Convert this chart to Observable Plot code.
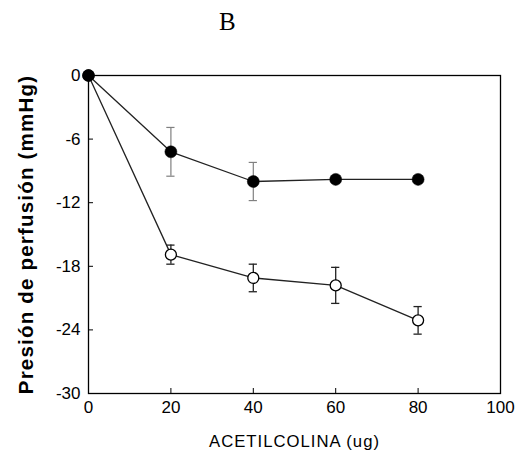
<!DOCTYPE html>
<html>
<head>
<meta charset="utf-8">
<script src="https://cdn.jsdelivr.net/npm/d3@7"></script>
<script src="https://cdn.jsdelivr.net/npm/@observablehq/plot@0.6"></script>
<style>
  body { margin: 0; background: #fff; }
  #wrap { position: relative; width: 522px; height: 455px; }
  #title { position: absolute; left: 219px; top: 8px; font-family: "Liberation Serif", serif; font-size: 25px; color: #000; }
  #wrap svg g[aria-label="x-axis tick label"] text,
  #wrap svg g[aria-label="y-axis tick label"] text { font-size: 17px; }
  #wrap svg g[aria-label="x-axis label"] text { font-size: 16.7px; letter-spacing: 1px; }
  #wrap svg g[aria-label="y-axis label"] text { font-size: 20.5px; font-weight: bold; letter-spacing: 1.2px; }
</style>
</head>
<body>
<div id="wrap"><div id="title">B</div></div>
<script>
const doses = [0, 20, 40, 60, 80];
const filledMean = [0, -7.2, -10.0, -9.8, -9.8];
const filledErr = [0, 2.3, 1.8, 0.2, 0.2];
const openMean = [0, -16.9, -19.1, -19.8, -23.1];
const openErr = [0, 0.9, 1.3, 1.7, 1.3];
const xTicks = [0, 20, 40, 60, 80, 100];
const yTicks = [0, -6, -12, -18, -24, -30];

const filled = doses.map((x, i) => ({x, y: filledMean[i], e: filledErr[i]}));
const open = doses.map((x, i) => ({x, y: openMean[i], e: openErr[i]}));
const filledBars = filled.filter(d => d.e > 0.5);
const openBars = open.filter(d => d.e > 0);

const font = "'Liberation Sans', Arial, sans-serif";
const fmt = d => String(d);

const chart = Plot.plot({
  width: 522,
  height: 455,
  marginLeft: 88,
  marginRight: 22,
  marginTop: 75,
  marginBottom: 62,
  style: {fontFamily: font, fontSize: "16px", color: "#000", background: "#fff"},
  x: {domain: [0, 100], ticks: xTicks},
  y: {domain: [-30, 0], ticks: yTicks},
  marks: [
    Plot.frame({stroke: "#000", strokeWidth: 1.3}),
    Plot.axisX({ticks: xTicks, tickFormat: fmt, tickSize: -5, tickPadding: 12, label: null}),
    Plot.axisY({ticks: yTicks, tickFormat: fmt, tickSize: -5, tickPadding: 13, label: null}),
    Plot.axisX({ticks: [], tickSize: 0, label: "ACETILCOLINA (ug)", labelAnchor: "center", labelArrow: "none", labelOffset: 53}),
    Plot.axisY({ticks: [], tickSize: 0, label: "Presión de perfusión (mmHg)", labelAnchor: "center", labelArrow: "none", labelOffset: 70}),
    // error bars, filled series
    Plot.ruleX(filledBars, {x: "x", y1: d => d.y - d.e, y2: d => d.y + d.e, stroke: "#808080", strokeWidth: 1.2}),
    Plot.ruleY(filledBars, {y: d => d.y - d.e, x1: d => d.x - 1, x2: d => d.x + 1, stroke: "#808080", strokeWidth: 1.2}),
    Plot.ruleY(filledBars, {y: d => d.y + d.e, x1: d => d.x - 1, x2: d => d.x + 1, stroke: "#808080", strokeWidth: 1.2}),
    // error bars, open series
    Plot.ruleX(openBars, {x: "x", y1: d => d.y - d.e, y2: d => d.y + d.e, stroke: "#222", strokeWidth: 1.3}),
    Plot.ruleY(openBars, {y: d => d.y - d.e, x1: d => d.x - 1, x2: d => d.x + 1, stroke: "#222", strokeWidth: 1.3}),
    Plot.ruleY(openBars, {y: d => d.y + d.e, x1: d => d.x - 1, x2: d => d.x + 1, stroke: "#222", strokeWidth: 1.3}),
    // lines
    Plot.line(filled, {x: "x", y: "y", stroke: "#222", strokeWidth: 1.3}),
    Plot.line(open, {x: "x", y: "y", stroke: "#222", strokeWidth: 1.3}),
    // markers
    Plot.dot(open, {x: "x", y: "y", r: 5.5, fill: "#fff", stroke: "#000", strokeWidth: 1.3}),
    Plot.dot(filled, {x: "x", y: "y", r: 6, fill: "#000", stroke: "#000", strokeWidth: 0.5})
  ]
});
document.getElementById("wrap").appendChild(chart);
</script>
</body>
</html>
